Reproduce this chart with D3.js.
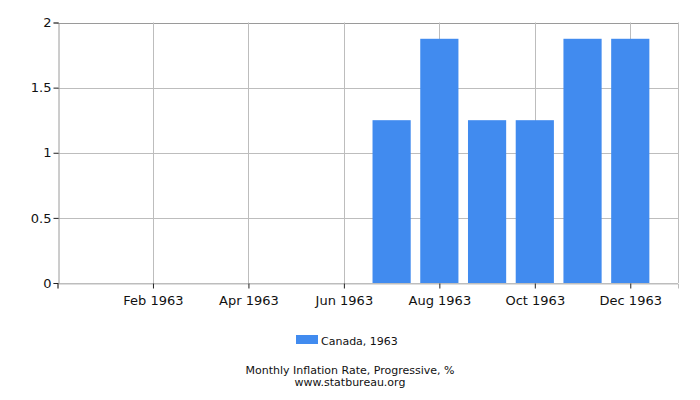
<!DOCTYPE html>
<html>
<head>
<meta charset="utf-8">
<script src="https://cdn.jsdelivr.net/npm/d3@7"></script>
<style>
  body { margin: 0; background: #fff; }
  text { font-family: "DejaVu Sans", sans-serif; fill: #111; }
</style>
</head>
<body>
<div id="chart"></div>
<script>
// data
var months = ["Jan 1963", "Feb 1963", "Mar 1963", "Apr 1963", "May 1963", "Jun 1963",
              "Jul 1963", "Aug 1963", "Sep 1963", "Oct 1963", "Nov 1963", "Dec 1963"]
var values = [null, null, null, null, null, null, 1.25, 1.875, 1.25, 1.25, 1.875, 1.875]
var yTicks = [0, 0.5, 1, 1.5, 2]
var legendLabel = "Canada, 1963"

var width = 700, height = 400
var margin = {top: 22.5, right: 22, bottom: 117, left: 57.5}

var svg = d3.select("#chart").append("svg")
    .attr("width", width)
    .attr("height", height)

// months sit at 1..12, domain padded to 0..13
var x = d3.scaleLinear()
    .domain([0, months.length + 1])
    .range([margin.left, width - margin.right])

var y = d3.scaleLinear()
    .domain([0, 2])
    .range([height - margin.bottom, margin.top])

var step = x(1) - x(0)
var barW = step * 0.8

// horizontal grid
svg.append("g").selectAll("line")
    .data(yTicks)
  .enter().append("line")
    .attr("x1", x(0)).attr("x2", x(months.length + 1))
    .attr("y1", function(d) { return Math.round(y(d)) + 0.5 })
    .attr("y2", function(d) { return Math.round(y(d)) + 0.5 })
    .style("stroke", function(d) { return d == 2 ? "#9a9a9a" : "#bdbdbd" })

// vertical grid at every second month
var labelIdx = [1, 3, 5, 7, 9, 11]
svg.append("g").selectAll("line")
    .data(labelIdx)
  .enter().append("line")
    .attr("x1", function(d) { return Math.round(x(d + 1)) + 0.5 })
    .attr("x2", function(d) { return Math.round(x(d + 1)) + 0.5 })
    .attr("y1", y(2)).attr("y2", y(0))
    .style("stroke", "#bdbdbd")

// right border
svg.append("line")
    .attr("x1", Math.round(x(months.length + 1)) + 0.5)
    .attr("x2", Math.round(x(months.length + 1)) + 0.5)
    .attr("y1", y(2)).attr("y2", y(0))
    .style("stroke", "#bdbdbd")

// bars
svg.append("g").selectAll("rect")
    .data(values.map(function(v, i) { return {v: v, i: i} }).filter(function(d) { return d.v != null }))
  .enter().append("rect")
    .attr("x", function(d) { return x(d.i + 1) - barW / 2 })
    .attr("y", function(d) { return y(d.v) })
    .attr("width", barW)
    .attr("height", function(d) { return y(0) - y(d.v) })
    .style("fill", "#418bef")

// y axis
var yAxis = svg.append("g")
    .attr("transform", "translate(" + (Math.round(x(0)) + 0.5) + ",0)")
    .call(d3.axisLeft(y).tickValues(yTicks).tickSize(5).tickPadding(2)
      .tickFormat(function(d) { return d }))
yAxis.select(".domain").style("stroke", "#9a9a9a")
yAxis.selectAll(".tick line").style("stroke", "#222")
yAxis.selectAll("text").style("font-size", "13px")

// x axis
var xAxis = svg.append("g")
    .attr("transform", "translate(0," + (Math.round(y(0)) + 0.5) + ")")
    .call(d3.axisBottom(x).tickValues([0].concat(labelIdx.map(function(d) { return d + 1 })))
      .tickSize(5).tickPadding(7)
      .tickFormat(function(d) { return d == 0 ? "" : months[d - 1] }))
xAxis.select(".domain").style("stroke", "#bdbdbd")
xAxis.selectAll(".tick line").style("stroke", "#222")
xAxis.selectAll("text").style("font-size", "13px")

// legend
svg.append("rect")
    .attr("x", 296).attr("y", 335)
    .attr("width", 22).attr("height", 9)
    .style("fill", "#418bef")
svg.append("text")
    .attr("x", 321).attr("y", 345)
    .style("font-size", "11px")
    .text(legendLabel)

// caption
svg.append("text")
    .attr("x", width / 2).attr("y", 374)
    .attr("text-anchor", "middle")
    .style("font-size", "11px")
    .text("Monthly Inflation Rate, Progressive, %")
svg.append("text")
    .attr("x", width / 2).attr("y", 386)
    .attr("text-anchor", "middle")
    .style("font-size", "11px")
    .text("www.statbureau.org")
</script>
</body>
</html>
